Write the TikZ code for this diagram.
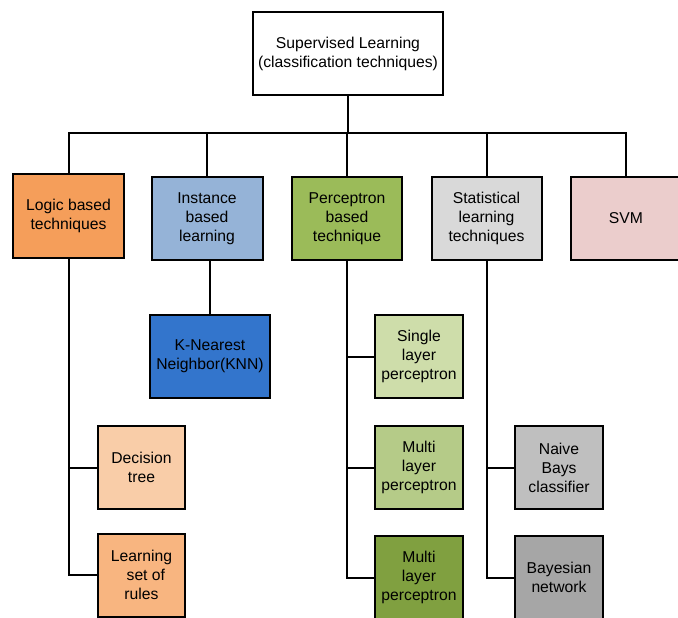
\documentclass[tikz,border=0pt]{standalone}
\usepackage{fontspec}
\setmainfont{Liberation Sans}
\definecolor{logicc}{HTML}{F59E5A}
\definecolor{instc}{HTML}{95B3D7}
\definecolor{percc}{HTML}{9BBB59}
\definecolor{statc}{HTML}{D9D9D9}
\definecolor{svmc}{HTML}{EBCDCC}
\definecolor{knnc}{HTML}{3375CC}
\definecolor{singlec}{HTML}{CEDDAA}
\definecolor{multic}{HTML}{B5CB88}
\definecolor{darkc}{HTML}{80A040}
\definecolor{treec}{HTML}{F9CDA8}
\definecolor{rulesc}{HTML}{F8B580}
\definecolor{naivec}{HTML}{BFBFBF}
\definecolor{bayesc}{HTML}{A6A6A6}
\tikzset{
  box/.style={draw=black, line width=2pt, align=center, inner sep=2pt,
    minimum height=83pt, font=\fontsize{15.7}{19}\selectfont},
  link/.style={line width=2pt}
}
\begin{document}
\begin{tikzpicture}[x=1pt,y=-1pt]
			\path[use as bounding box] (0,0) rectangle (678,618);
			\clip (0,0) rectangle (678,618);
			% top
			\node[box, minimum width=190pt, fill=white] (root) at (348,53.5) {Supervised Learning\\(classification techniques)};
			\coordinate (bus) at (348,133);
			% first level
			\node[box, minimum width=111pt, minimum height=84pt, fill=logicc] (logic) at (68.5,216) {Logic based\\techniques};
			\node[box, minimum width=111pt, fill=instc] (inst) at (207,218.5) {Instance\\based\\learning};
			\node[box, minimum width=110pt, fill=percc] (perc) at (347,218.5) {Perceptron\\based\\technique};
			\node[box, minimum width=110pt, fill=statc] (stat) at (486.5,218.5) {Statistical\\learning\\techniques};
			\node[box, minimum width=111pt, fill=svmc] (svm) at (626,218.5) {SVM};
			% second level
			\node[box, minimum width=120pt, fill=knnc] (knn) at (210,356.5) {K-Nearest\\Neighbor(KNN)};
			\node[box, minimum width=88pt, fill=singlec] (single) at (419,356.5) {Single\\layer\\perceptron};
			\node[box, minimum width=88pt, fill=multic] (multi) at (419,467.5) {Multi\\layer\\perceptron};
			\node[box, minimum width=88pt, fill=darkc] (multidark) at (419,577.5) {Multi\\layer\\perceptron};
			\node[box, minimum width=87pt, fill=treec] (tree) at (141.5,467.5) {Decision\\tree};
			\node[box, minimum width=87pt, fill=rulesc] (rules) at (141.5,575) {Learning\\\ \ set of\\rules};
			\node[box, minimum width=88pt, fill=naivec] (naive) at (559,467.5) {Naive\\Bays\\classifier};
			\node[box, minimum width=88pt, fill=bayesc] (bayes) at (559,577.5) {Bayesian\\network};
			% connectors
			\draw[link] (root.south) -- (bus);
			\foreach \n in {logic,inst,perc,stat,svm}
				\draw[link] (bus) -| (\n.north);
			\draw[link] (inst.south -| knn.north) -- (knn.north);
			\draw[link] (logic.south) |- (tree.west);
			\draw[link] (logic.south) |- (rules.west);
			\draw[link] (perc.south) |- (single.west);
			\draw[link] (perc.south) |- (multi.west);
			\draw[link] (perc.south) |- (multidark.west);
			\draw[link] (stat.south) |- (naive.west);
			\draw[link] (stat.south) |- (bayes.west);
		\end{tikzpicture}
\end{document}
